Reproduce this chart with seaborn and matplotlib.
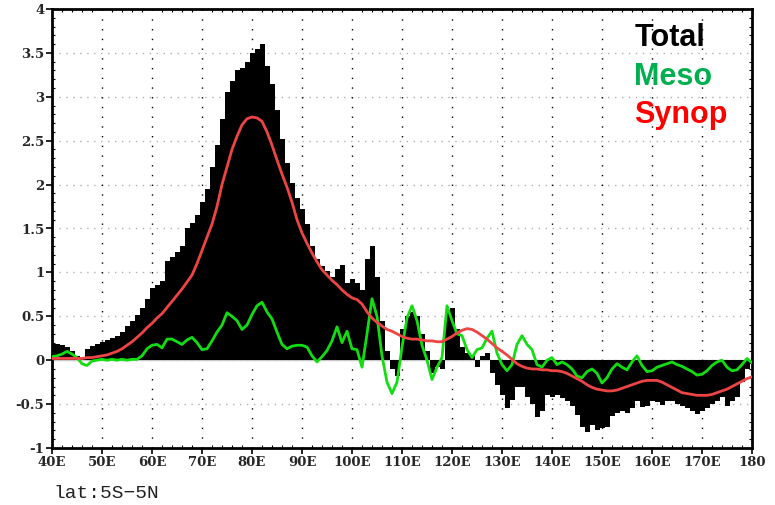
import numpy as np
import pandas as pd
import matplotlib
matplotlib.use("Agg")
import matplotlib.pyplot as plt
from matplotlib.ticker import MultipleLocator
import seaborn as sns

# Longitudes (degrees east), 1-degree spacing
lon = list(range(40, 181))

# Total anomaly (bars)
total = [
    0.18, 0.19, 0.17, 0.15, 0.10, 0.05, 0.03, 0.13, 0.16, 0.18,   # 40-49
    0.21, 0.23, 0.25, 0.27, 0.32, 0.39, 0.45, 0.52, 0.60, 0.70,   # 50-59
    0.82, 0.86, 0.90, 1.13, 1.18, 1.23, 1.30, 1.50, 1.56, 1.65,   # 60-69
    1.80, 1.95, 2.20, 2.45, 2.75, 3.05, 3.18, 3.30, 3.33, 3.40,   # 70-79
    3.50, 3.55, 3.60, 3.35, 3.15, 2.85, 2.52, 2.25, 2.02, 1.85,   # 80-89
    1.72, 1.55, 1.30, 1.15, 1.07, 1.02, 0.95, 1.04, 1.08, 0.88,   # 90-99
    0.93, 0.88, 0.80, 1.15, 1.30, 0.95, 0.45, 0.10, -0.10, -0.18, # 100-109
    0.35, 0.50, 0.55, 0.50, 0.30, 0.10, -0.15, -0.08, -0.10, 0.55, # 110-119
    0.60, 0.35, 0.15, 0.08, 0.05, -0.08, 0.05, 0.08, -0.15, -0.28, # 120-129
    -0.40, -0.55, -0.45, -0.30, -0.30, -0.42, -0.50, -0.65, -0.58, -0.40, # 130-139
    -0.42, -0.40, -0.43, -0.47, -0.52, -0.62, -0.76, -0.82, -0.74, -0.80, # 140-149
    -0.77, -0.76, -0.63, -0.60, -0.58, -0.60, -0.55, -0.47, -0.53, -0.52, # 150-159
    -0.46, -0.48, -0.51, -0.47, -0.46, -0.50, -0.52, -0.55, -0.58, -0.61, # 160-169
    -0.58, -0.54, -0.50, -0.46, -0.42, -0.52, -0.47, -0.42, -0.25, -0.10, # 170-179
    -0.04,                                                          # 180
]

# Mesoscale component
meso = [
    0.04, 0.05, 0.07, 0.10, 0.07, 0.03, -0.04, -0.06, -0.01, 0.00,
    0.01, 0.00, 0.01, 0.00, 0.01, 0.00, 0.01, 0.01, 0.05, 0.13,
    0.17, 0.18, 0.14, 0.24, 0.24, 0.21, 0.18, 0.23, 0.26, 0.20,
    0.12, 0.13, 0.22, 0.32, 0.40, 0.54, 0.50, 0.45, 0.35, 0.40,
    0.52, 0.62, 0.66, 0.55, 0.47, 0.32, 0.18, 0.13, 0.16, 0.17,
    0.17, 0.15, 0.05, -0.02, 0.04, 0.11, 0.22, 0.38, 0.20, 0.33,
    0.13, 0.12, -0.08, 0.30, 0.70, 0.50, 0.05, -0.25, -0.38, -0.25,
    0.15, 0.48, 0.62, 0.45, 0.17, 0.00, -0.22, -0.08, 0.03, 0.62,
    0.45, 0.30, 0.28, 0.12, 0.03, 0.12, 0.14, 0.25, 0.33, 0.08,
    -0.05, -0.12, -0.05, 0.18, 0.28, 0.18, 0.12, -0.05, -0.08, 0.00,
    0.03, -0.05, -0.02, -0.05, -0.10, -0.18, -0.20, -0.13, -0.10, -0.15,
    -0.26, -0.20, -0.10, -0.04, -0.08, -0.11, -0.02, 0.05, -0.06, -0.13,
    -0.12, -0.08, -0.06, -0.04, -0.02, -0.05, -0.07, -0.10, -0.13, -0.17,
    -0.16, -0.12, -0.06, -0.02, 0.00, -0.08, -0.12, -0.11, -0.05, 0.02,
    -0.03,
]

# Synoptic component
synop = [
    0.02, 0.02, 0.02, 0.02, 0.02, 0.02, 0.02, 0.03, 0.03, 0.04,
    0.05, 0.06, 0.08, 0.10, 0.13, 0.17, 0.21, 0.26, 0.31, 0.37,
    0.42, 0.48, 0.53, 0.60, 0.67, 0.74, 0.81, 0.89, 0.97, 1.10,
    1.25, 1.40, 1.55, 1.75, 2.00, 2.20, 2.40, 2.55, 2.68, 2.75,
    2.77, 2.76, 2.72, 2.60, 2.45, 2.28, 2.12, 1.97, 1.80, 1.60,
    1.45, 1.33, 1.22, 1.12, 1.03, 0.97, 0.91, 0.86, 0.80, 0.75,
    0.71, 0.69, 0.64, 0.55, 0.48, 0.43, 0.39, 0.35, 0.33, 0.30,
    0.27, 0.25, 0.24, 0.24, 0.23, 0.22, 0.22, 0.21, 0.21, 0.24,
    0.27, 0.31, 0.34, 0.36, 0.35, 0.32, 0.28, 0.24, 0.19, 0.14,
    0.10, 0.06, 0.01, -0.04, -0.07, -0.09, -0.10, -0.10, -0.11, -0.11,
    -0.12, -0.12, -0.13, -0.15, -0.18, -0.21, -0.24, -0.28, -0.31, -0.33,
    -0.34, -0.35, -0.35, -0.34, -0.32, -0.30, -0.28, -0.26, -0.24, -0.23,
    -0.23, -0.23, -0.25, -0.28, -0.31, -0.34, -0.37, -0.38, -0.39, -0.40,
    -0.40, -0.40, -0.39, -0.37, -0.35, -0.33, -0.30, -0.27, -0.24, -0.21,
    -0.19,
]

xticks = [40, 50, 60, 70, 80, 90, 100, 110, 120, 130, 140, 150, 160, 170, 180]
xticklabels = ["40E", "50E", "60E", "70E", "80E", "90E", "100E", "110E",
               "120E", "130E", "140E", "150E", "160E", "170E", "180"]
yticks = [-1, -0.5, 0, 0.5, 1, 1.5, 2, 2.5, 3, 3.5, 4]
yticklabels = ["-1", "-0.5", "0", "0.5", "1", "1.5", "2", "2.5", "3", "3.5", "4"]
legend_labels = ["Total", "Meso", "Synop"]
legend_colors = ["#000000", "#00b050", "#ff0000"]

df = pd.DataFrame({"lon": lon, "total": total, "meso": meso, "synop": synop})

sns.set_theme(style="white")
plt.rcParams["font.family"] = ["Liberation Sans", "DejaVu Sans"]

fig = plt.figure(figsize=(7.75, 5.05), dpi=100)
ax = fig.add_axes([52 / 775, 1 - 448 / 505, 700 / 775, 439 / 505])

# grid
for v in yticks[1:-1]:
    ax.axhline(v, color="#b0b0b0", lw=1.0, ls=(0, (1, 4)), zorder=0)
for v in xticks[1:-1]:
    ax.axvline(v, color="#000000", lw=1.0, ls=(0, (1, 6)), zorder=0)

sns.barplot(data=df, x="lon", y="total", native_scale=True, color="black",
            width=1.0, linewidth=0, errorbar=None, saturation=1, ax=ax, zorder=2)
ax.axhline(0, color="#c8c8c8", lw=1.0, zorder=1.5)

sns.lineplot(data=df, x="lon", y="meso", color="#11dd11", lw=2.0, ax=ax, zorder=4)
sns.lineplot(data=df, x="lon", y="synop", color="#ee4444", lw=2.0, ax=ax, zorder=5)

ax.set_xlim(40, 180)
ax.set_ylim(-1, 4)
ax.set_xlabel("")
ax.set_ylabel("")

ax.tick_params(axis="both", which="major", direction="out", length=4, width=1.2,
               color="black", pad=1.5, bottom=True, left=True, labelsize=10)
ax.tick_params(axis="both", which="minor", direction="in", length=2, width=0.8,
               color="black", bottom=True, left=True, top=True, right=True)
ax.xaxis.set_minor_locator(MultipleLocator(2))
ax.yaxis.set_minor_locator(MultipleLocator(0.1))

ax.set_xticks(xticks)
ax.set_xticklabels(xticklabels)
ax.set_yticks(yticks)
ax.set_yticklabels(yticklabels)

for s in ax.spines.values():
    s.set_visible(True)
    s.set_color("black")
    s.set_linewidth(2.0)

# colored legend text
for i, (lab, col) in enumerate(zip(legend_labels, legend_colors)):
    ax.text(0.832, 0.934 - i * 0.088, lab, transform=ax.transAxes, color=col,
            fontsize=22, fontweight="bold", ha="left", va="center",
            family=["Liberation Sans", "DejaVu Sans"], zorder=6)

fig.text(53 / 775, 1 - 494 / 505, "lat:5S\u22125N", fontsize=14,
         family=["Liberation Mono", "DejaVu Sans Mono"], ha="left", va="center",
         color="#222222")

# tick label font
for lab in ax.get_xticklabels() + ax.get_yticklabels():
    lab.set_family(["DejaVu Serif"])
    lab.set_fontsize(9.5)
    lab.set_fontweight("bold")

fig.savefig("out.png", dpi=100, facecolor="white")
